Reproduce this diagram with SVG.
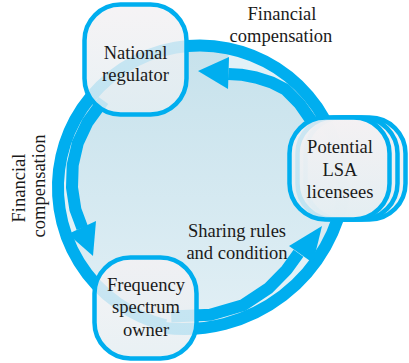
<svg xmlns="http://www.w3.org/2000/svg" width="409" height="363" viewBox="0 0 409 363">
<defs>
<linearGradient id="bg" x1="0" y1="0" x2="0" y2="1">
<stop offset="0" stop-color="#c7e2ec"/>
<stop offset="1" stop-color="#e1eff5"/>
</linearGradient>
<linearGradient id="nodefill" x1="0" y1="0" x2="0" y2="1">
<stop offset="0" stop-color="#f4f1f3"/>
<stop offset="1" stop-color="#e4eef2"/>
</linearGradient>
</defs>
<style>
.ring{fill:none;stroke:#00aeef;stroke-width:12}
.shaft{fill:none;stroke:#00aeef;stroke-width:12;stroke-linejoin:round}
.head{fill:#00aeef}
.cres{fill:#e2f1f7}
.node{fill:url(#nodefill);fill-opacity:0.84;stroke:#00aeef;stroke-width:4.5}
text{font-family:'Liberation Serif','Times New Roman',serif;font-size:18.5px;fill:#1a1a1a;text-anchor:middle}
</style>
<rect width="409" height="363" fill="#ffffff"/>
<circle cx="200" cy="187.5" r="138" fill="url(#bg)"/>
<g id="connectors">
<path class="cres" d="M228.3,74 L241,74.7 L256.1,77.5 L271,82.2 L285.3,89.4 L289.6,84.5 A136.5 136.5 0 0 0 228.4,53.9 Z"/>
<path class="cres" d="M82.3,228 L75.4,209.5 L72,187.5 L72.7,165.1 L77.8,143 L87.4,122.5 L81.8,119.25 A136.5 136.5 0 0 0 71.7,234.2 Z"/>
<path class="cres" d="M298.5,253.2 L286.8,269.6 L268.9,287.9 L242.9,305.2 L245.4,311.2 A156.5 156.5 0 0 0 310.9,259.1 Z"/>
<path class="ring" d="M339.8,212.2 A142 142 0 1 0 165.6,325.3"/>
<path class="ring" d="M164.6,327.9 A162 162 0 0 0 344.7,189.6"/>
<polyline class="shaft" points="312.6,122.5 299.6,103.9 285.3,89.4 271,82.2 256.1,77.5 241,74.7 228.3,74"/>
<polygon class="head" points="198,71 229,57 228,89"/>
<polyline class="shaft" points="103.4,100.5 87.4,122.5 77.8,143 72.7,165.1 72,187.5 75.4,209.5 82.3,228"/>
<polygon class="head" points="93,256 68,234 96,221"/>
<polyline class="shaft" points="171.2,316.5 210.3,314.8 242.9,305.2 268.9,287.9 286.8,269.6 298.5,253.2"/>
<polygon class="head" points="322,226 289,246 313,263"/>
</g>
<g id="national">
<rect class="node" x="84.5" y="4.5" width="102" height="110" rx="36"/>
<text x="135.5" y="59">National</text>
<text x="135.5" y="81">regulator</text>
</g>
<g id="lsa">
<rect class="node" x="305.5" y="117.5" width="100" height="102" rx="36"/>
<rect class="node" x="297.5" y="117.5" width="100" height="102" rx="36"/>
<rect class="node" x="289.5" y="117.5" width="100" height="102" rx="36"/>
<text x="340" y="153">Potential</text>
<text x="340" y="175.5">LSA</text>
<text x="340" y="198">licensees</text>
</g>
<g id="frequency">
<rect class="node" x="94.5" y="257.5" width="102" height="101" rx="36"/>
<text x="146" y="291">Frequency</text>
<text x="146" y="313">spectrum</text>
<text x="146" y="336">owner</text>
</g>
<g id="labels">
<text x="282" y="20">Financial</text>
<text x="281" y="42">compensation</text>
<text transform="translate(25,188) rotate(-90)">Financial</text>
<text transform="translate(45,186) rotate(-90)">compensation</text>
<text x="237" y="237">Sharing rules</text>
<text x="237" y="259">and condition</text>
</g>
</svg>
